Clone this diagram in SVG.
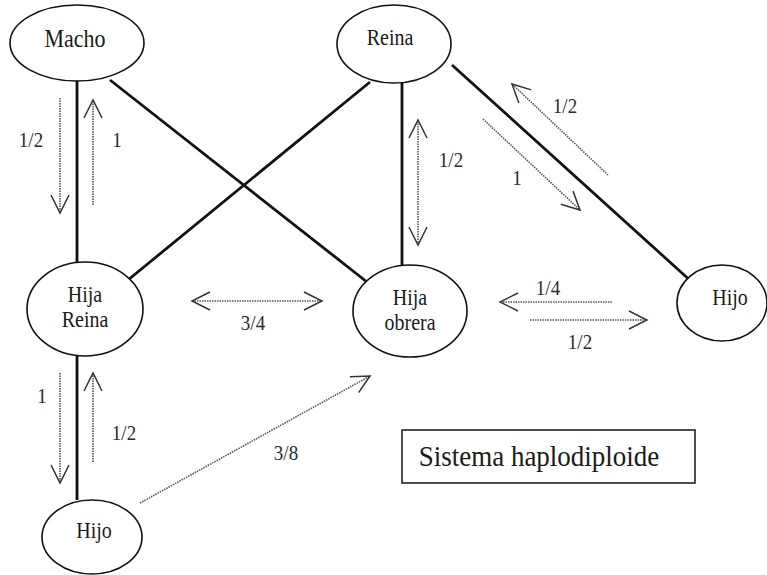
<svg xmlns="http://www.w3.org/2000/svg" width="767" height="575" viewBox="0 0 767 575">
<style>
.node ellipse{fill:#fff;stroke:#111;stroke-width:1.6}
.lbl{font-family:"Liberation Serif","Times New Roman",serif;font-size:20px;fill:#1a1a1a;text-anchor:middle}
.num{font-family:"Liberation Serif","Times New Roman",serif;font-size:19px;fill:#2a2a2a;text-anchor:middle}
.edge{stroke:#111;stroke-width:2.8;fill:none}
.arr{stroke:#555;stroke-width:1.6;stroke-dasharray:1.5 1;fill:none}
</style>
<defs>
<marker id="ah" markerUnits="userSpaceOnUse" markerWidth="26" markerHeight="26" viewBox="-22 -13 26 26" refX="0" refY="0" orient="auto-start-reverse">
<path d="M-18,-9 L0,0 L-18,9" fill="none" stroke="#333" stroke-width="1.5"/>
</marker>
</defs>
<rect width="767" height="575" fill="#fff"/>
<g id="connectors">
<line class="edge" x1="77" y1="81" x2="77" y2="262"/>
<line class="edge" x1="110" y1="80" x2="367" y2="282"/>
<line class="edge" x1="370" y1="82" x2="128" y2="280"/>
<line class="edge" x1="402" y1="83" x2="402" y2="265"/>
<line class="edge" x1="452" y1="65" x2="693" y2="283"/>
<line class="edge" x1="77" y1="356" x2="77" y2="500"/>
<line class="arr" x1="60" y1="98" x2="60" y2="213" marker-end="url(#ah)"/>
<line class="arr" x1="93" y1="205" x2="93" y2="100" marker-end="url(#ah)"/>
<line class="arr" x1="418" y1="245" x2="418" y2="120" marker-start="url(#ah)" marker-end="url(#ah)"/>
<line class="arr" x1="608" y1="175" x2="512" y2="84" marker-end="url(#ah)"/>
<line class="arr" x1="483" y1="119" x2="580" y2="210" marker-end="url(#ah)"/>
<line class="arr" x1="192" y1="301" x2="322" y2="301" marker-start="url(#ah)" marker-end="url(#ah)"/>
<line class="arr" x1="612" y1="302" x2="500" y2="302" marker-end="url(#ah)"/>
<line class="arr" x1="530" y1="320" x2="647" y2="320" marker-end="url(#ah)"/>
<line class="arr" x1="60" y1="373" x2="60" y2="483" marker-end="url(#ah)"/>
<line class="arr" x1="93" y1="462" x2="93" y2="373" marker-end="url(#ah)"/>
<line class="arr" x1="140" y1="503" x2="370" y2="376" marker-end="url(#ah)"/>
<text class="num" transform="translate(31 147) scale(1 1.12)">1/2</text>
<text class="num" transform="translate(117 147) scale(1 1.12)">1</text>
<text class="num" transform="translate(451 167) scale(1 1.12)">1/2</text>
<text class="num" transform="translate(565 113) scale(1 1.12)">1/2</text>
<text class="num" transform="translate(517 185) scale(1 1.12)">1</text>
<text class="num" transform="translate(253 330) scale(1 1.12)">3/4</text>
<text class="num" transform="translate(548 295) scale(1 1.12)">1/4</text>
<text class="num" transform="translate(580 349) scale(1 1.12)">1/2</text>
<text class="num" transform="translate(42 403) scale(1 1.12)">1</text>
<text class="num" transform="translate(124 440) scale(1 1.12)">1/2</text>
<text class="num" transform="translate(286 460) scale(1 1.12)">3/8</text>
</g>
<g id="macho" class="node"><ellipse cx="77" cy="43" rx="67" ry="38"/><text class="lbl" transform="translate(75 47) scale(1 1.18)" style="font-size:22px">Macho</text></g>
<g id="reina" class="node"><ellipse cx="394" cy="44" rx="57" ry="39"/><text class="lbl" transform="translate(390 45) scale(1 1.18)">Reina</text></g>
<g id="hija-reina" class="node"><ellipse cx="85" cy="309" rx="58" ry="47"/><text class="lbl" transform="translate(85 302) scale(1 1.18)">Hija</text><text class="lbl" transform="translate(85 327) scale(1 1.18)">Reina</text></g>
<g id="hija-obrera" class="node"><ellipse cx="410" cy="311" rx="57" ry="46"/><text class="lbl" transform="translate(410 305) scale(1 1.18)">Hija</text><text class="lbl" transform="translate(410 330) scale(1 1.18)">obrera</text></g>
<g id="hijo-right" class="node"><ellipse cx="722" cy="303" rx="45" ry="38"/><text class="lbl" transform="translate(730 305) scale(1 1.18)">Hijo</text></g>
<g id="hijo-bottom" class="node"><ellipse cx="92" cy="537" rx="50" ry="37"/><text class="lbl" transform="translate(94 538) scale(1 1.18)">Hijo</text></g>
<g id="legend"><rect x="402" y="430" width="293" height="53" fill="none" stroke="#222" stroke-width="1.6"/><text class="lbl" transform="translate(539 466) scale(1 1.1)" style="font-size:27px">Sistema haplodiploide</text></g>
</svg>
